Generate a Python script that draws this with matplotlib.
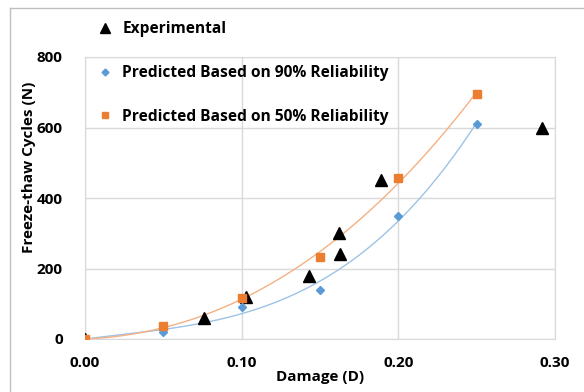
import numpy as np
import matplotlib.pyplot as plt
from matplotlib.lines import Line2D

# 冻融循环次数与损伤变量
exp_d = [0.0, 0.076, 0.103, 0.143, 0.162, 0.163, 0.189, 0.292]
exp_n = [0, 60, 120, 180, 300, 240, 450, 600]

pred_d = [0.0, 0.05, 0.10, 0.15, 0.20, 0.25]
pred90_n = [0, 21, 90, 140, 350, 610]
pred50_n = [0, 38, 115, 232, 457, 696]

xticks = [0.0, 0.1, 0.2, 0.3]
yticks = [0, 200, 400, 600, 800]

plt.rcParams['font.family'] = ['Open Sans', 'DejaVu Sans']
plt.rcParams['font.weight'] = 'bold'

blue = '#5B9BD5'
orange = '#ED7D31'


def trend(x, y, xs):
    # 三次多项式趋势线, 截距为0
    x = np.asarray(x)
    A = np.column_stack([x, x ** 2, x ** 3])
    c = np.linalg.lstsq(A, np.asarray(y, float), rcond=None)[0]
    return c[0] * xs + c[1] * xs ** 2 + c[2] * xs ** 3


fig = plt.figure(figsize=(5.84, 3.92), dpi=100)
ax = fig.add_axes([85 / 584, 1 - 339 / 392, 470 / 584, 282 / 392])

xs = np.linspace(0, 0.25, 200)
ax.plot(xs, trend(pred_d, pred90_n, xs), color='#9DC3E6', lw=1, zorder=2)
ax.plot(xs, trend(pred_d, pred50_n, xs), color='#F4B183', lw=1, zorder=2)

ax.plot(exp_d, exp_n, '^', color='black', ms=8, ls='none', zorder=3)
ax.plot(pred_d, pred90_n, 'D', color=blue, ms=4, ls='none', zorder=4)
ax.plot(pred_d, pred50_n, 's', color=orange, ms=6, ls='none', zorder=5)

ax.set_xlim(0, 0.3)
ax.set_ylim(0, 800)
ax.set_xticks(xticks)
ax.set_yticks(yticks)
ax.set_xticklabels(['%.2f' % t for t in xticks])
ax.grid(True, color='#D9D9D9', lw=1)
ax.set_axisbelow(True)
for s in ax.spines.values():
    s.set_color('#D9D9D9')
ax.tick_params(length=0, labelsize=11, pad=12)
ax.tick_params(axis='y', pad=16)
ax.set_xlabel('Damage (D)', fontsize=11, fontweight='bold', labelpad=0)
ax.set_ylabel('Freeze-thaw Cycles (N)', fontsize=11, fontweight='bold')
ax.yaxis.set_label_coords(-49 / 470, (339 - 167) / 282)

handles = [
    Line2D([], [], marker='^', color='black', ls='none', ms=7),
    Line2D([], [], marker='D', color=blue, ls='none', ms=3.5),
    Line2D([], [], marker='s', color=orange, ls='none', ms=5),
]
labels = ['Experimental', 'Predicted Based on 90% Reliability',
          'Predicted Based on 50% Reliability']
fig.legend(handles, labels, loc='upper left', bbox_to_anchor=(85 / 584, 1 - 9 / 392),
           frameon=False, labelspacing=1.78, handletextpad=0.6,
           handlelength=1.0, borderpad=0.3, prop={'weight': 'bold', 'size': 11.2})

# 图表外框
fig.add_artist(Line2D([10 / 584, 10 / 584], [0, 1 - 8 / 392], color='#BFBFBF', lw=1))
fig.add_artist(Line2D([10 / 584, 1], [1 - 8 / 392, 1 - 8 / 392], color='#BFBFBF', lw=1))

fig.savefig('out.png', dpi=100)
